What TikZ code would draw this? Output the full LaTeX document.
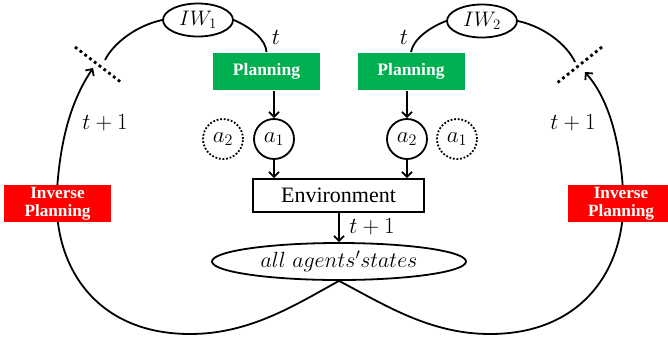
\RequirePackage{fix-cm}
\documentclass[tikz,border=0pt]{standalone}
\usepackage{fontspec}
\newfontfamily\boxfont{Liberation Serif}
\usetikzlibrary{arrows.meta,shapes.geometric}
\definecolor{plangreen}{HTML}{00B050}
\definecolor{invred}{HTML}{FF0000}
\tikzset{
  arr/.style={-{Straight Barb[length=5pt,width=10pt]}},
  lbl/.style={font=\fontsize{23}{27}\selectfont, inner sep=0pt},
  worldell/.style={ellipse, draw, minimum width=70pt, minimum height=33pt, inner sep=0pt, font=\fontsize{21}{25}\selectfont},
  planbox/.style={rectangle, fill=plangreen, text=white, minimum width=107pt, minimum height=37pt, inner sep=0pt, font=\boxfont\fontsize{17.5}{19}\selectfont\bfseries},
  invbox/.style={rectangle, fill=invred, text=white, minimum width=107pt, minimum height=37pt, inner sep=0pt, align=center, font=\boxfont\fontsize{17.2}{18}\selectfont\bfseries},
  actcirc/.style={circle, draw, minimum size=40pt, inner sep=0pt, font=\fontsize{23}{27}\selectfont},
  ghostcirc/.style={circle, draw, dash pattern=on 1.8pt off 1.8pt, minimum size=40pt, inner sep=0pt, font=\fontsize{23}{27}\selectfont},
  envbox/.style={rectangle, draw, minimum width=171pt, minimum height=33pt, inner sep=0pt, font=\boxfont\fontsize{22}{26}\selectfont},
  stateell/.style={ellipse, draw, minimum width=254pt, minimum height=37pt, inner sep=0pt, font=\fontsize{22}{26}\selectfont},
  crossdots/.style={line width=2.8pt, dash pattern=on 2.8pt off 3.2pt},
}
\begin{document}
\begin{tikzpicture}[x=1pt, y=-1pt, line width=1.8pt]
\useasboundingbox (0,0) rectangle (668,341);

% agents' internal world models
\node[worldell] (IW1) at (198,20) {$IW_1$};
\node[worldell] (IW2) at (482,21) {$IW_2$};

% planning
\node[planbox] (P1) at (266.5,71.5) {Planning};
\node[planbox] (P2) at (411,71.5) {Planning};

% actions
\node[actcirc] (a1) at (274,139) {$a_1$};
\node[ghostcirc] (g2) at (223,139) {$a_2$};
\node[actcirc] (a2) at (407,139) {$a_2$};
\node[ghostcirc] (g1) at (457,139) {$a_1$};

% environment and resulting states
\node[envbox] (Env) at (338.5,195.5) {Environment};
\node[stateell] (S) at (339,261.5) {$all\ agents'states$};

% world model -> planning
\draw (IW1.east) .. controls (252,28) and (266,40) .. (P1.north);
\draw (IW2.west) .. controls (428,28) and (413,40) .. (P2.north);
\node[lbl] (t1) at (276,37) {$t$};
\node[lbl] (t2) at (404,37) {$t$};

% planning -> action -> environment
\draw[arr] (P1.south -| a1) -- (a1);
\draw[arr] (P2.south -| a2) -- (a2);
\draw[arr] (a1) -- (a1 |- Env.north);
\draw[arr] (a2) -- (a2 |- Env.north);
\draw[arr] (Env.south -| S) -- (S.north);
\node[lbl] (t3) at (372,227) {$t+1$};

% cut feedback loops
\coordinate (L1) at (105,60);
\coordinate (L2) at (93,68);
\coordinate (R1) at (575,62);
\coordinate (R2) at (585,72);
\draw (IW1.west) .. controls (135,26) and (113,44) .. (L1);
\draw (IW2.east) .. controls (545,27) and (567,45) .. (R1);
\draw[crossdots] (75,47) -- (122,83);
\draw[crossdots] (602,47) -- (557,83);

\draw[arr] (S.south) .. controls (295,305) and (250,334) .. (190,334)
  .. controls (95,334) and (52,265) .. (57,190)
  .. controls (61,130) and (75,95) .. (L2);
\draw[arr] (S.south) .. controls (385,305) and (430,334) .. (490,334)
  .. controls (585,334) and (628,265) .. (623,190)
  .. controls (619,130) and (605,95) .. (R2);
\node[lbl] (t4) at (105,123) {$t+1$};
\node[lbl] (t5) at (573,123) {$t+1$};

% inverse planning
\node[invbox] (IP1) at (57.5,203.5) {Inverse\\Planning};
\node[invbox] (IP2) at (621,203.5) {Inverse\\Planning};
\end{tikzpicture}
\end{document}
